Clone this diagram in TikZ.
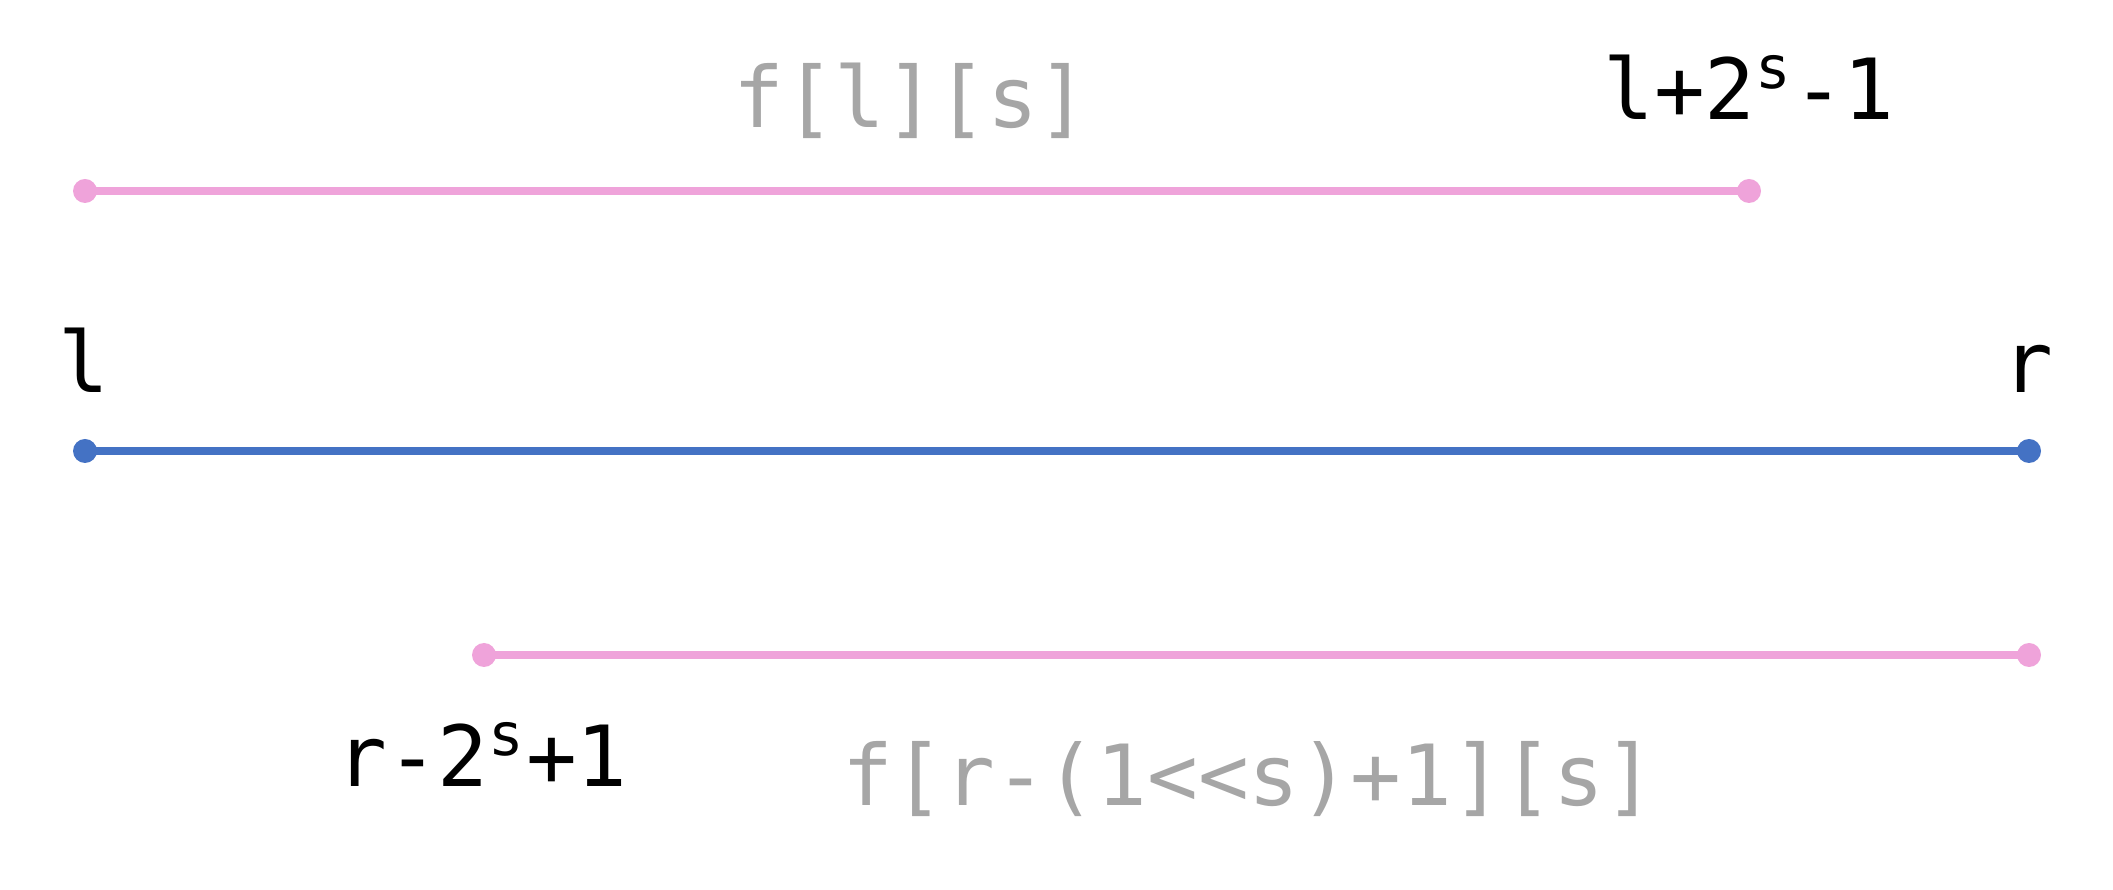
\documentclass[tikz,border=0pt]{standalone}
\usepackage{fontspec}
\setmonofont{DejaVu Sans Mono}
\usetikzlibrary{positioning}
\definecolor{segpink}{RGB}{239,163,218}
\definecolor{segblue}{RGB}{68,114,196}
\definecolor{labgray}{RGB}{166,166,166}
\tikzset{
	seg/.style={line width=0.08cm, #1},
	lab/.style={font=\ttfamily\fontsize{24}{28}\selectfont, anchor=base, inner sep=0pt},
}
\begin{document}
\begin{tikzpicture}
	 		
	 			\useasboundingbox (0,0) rectangle (21.13,8.89);
	 			
	 			% End points.
	 			\coordinate (ta) at (0.85,6.98);
	 			\coordinate (tb) at (17.49,6.98);
	 			\coordinate (ma) at (0.85,4.38);
	 			\coordinate (mb) at (20.29,4.38);
	 			\coordinate (ba) at (4.84,2.34);
	 			\coordinate (bb) at (20.29,2.34);
	 			
	 			% Draw segments.
	 			\draw[seg=segpink] (ta) -- (tb);
	 			\draw[seg=segblue] (ma) -- (mb);
	 			\draw[seg=segpink] (ba) -- (bb);
	 			
	 			% Draw end dots.
	 			\foreach \p/\c in {ta/segpink, tb/segpink, ma/segblue, mb/segblue, ba/segpink, bb/segpink} {
	 				\fill[\c] (\p) circle (0.12cm);
	 			}
	 			
	 			% Draw labels.
	 			\node[lab] (lbl) at (0.84,4.96) {l};
	 			\node[lab] (lbr) at (20.28,4.96) {r};
	 			\node[lab, labgray] (ftop) at (9.11,7.61) {f[l][s]};
	 			\node[lab] (ltop) at (17.49,7.69) {l+2\textsuperscript{s}-1};
	 			\node[lab] (lbot) at (4.82,1.02) {r-2\textsuperscript{s}+1};
	 			\node[lab, labgray] (fbot) at (12.49,0.83) {f[r-(1<<s)+1][s]};
	 				
	 		\end{tikzpicture}
\end{document}
